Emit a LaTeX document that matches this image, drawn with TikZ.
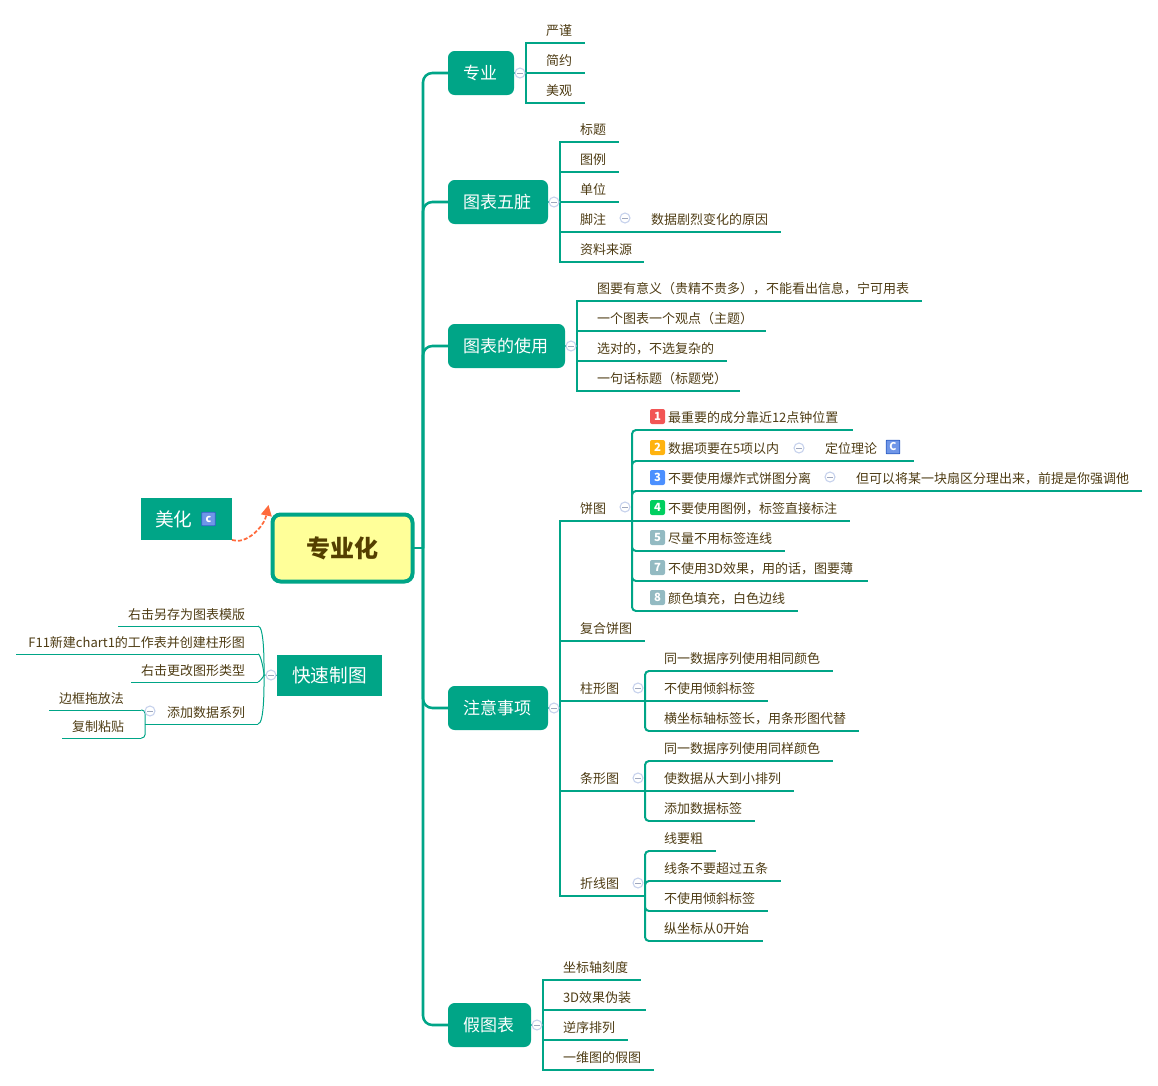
\documentclass[tikz,border=0pt]{standalone}
\usepackage{fontspec}
\setmainfont{Noto Sans CJK SC}
\usetikzlibrary{arrows.meta}

\definecolor{mapgreen}{HTML}{00A587}
\definecolor{maptext}{HTML}{4E3C14}
\definecolor{rootfill}{HTML}{FFFF99}
\definecolor{rootink}{HTML}{543F00}
\definecolor{foldblue}{HTML}{C6D1EC}
\definecolor{fakeorange}{HTML}{FF6A3C}
\definecolor{iconblue}{HTML}{2F5FC4}
\definecolor{iconfill}{HTML}{6F96E8}
\definecolor{badgered}{HTML}{F25555}
\definecolor{badgeorange}{HTML}{FFB310}
\definecolor{badgeblue}{HTML}{4C90FF}
\definecolor{badgegreen}{HTML}{00CF5F}
\definecolor{badgegrey}{HTML}{93BAC2}

\tikzset{
  pad/.store in=\leafpad, pad=15pt,
  branch/.style={draw=mapgreen,line width=1.5pt,line cap=rect},
  thinbranch/.style={draw=mapgreen,line width=.75pt},
  trunk/.style={draw=mapgreen,line width=1.9pt,rounded corners=7pt},
  leaf/.style={anchor=south west,inner sep=0pt,outer sep=0pt,minimum height=18.75pt,
    /utils/exec={\pgfmathsetlengthmacro\leafw{#1*0.75pt}},text width=\leafw,align=left,
    font=\fontsize{9.75pt}{12pt}\selectfont,text=maptext,
    execute at begin node={\hspace*{\leafpad}},
    append after command={(\tikzlastnode.south west) edge[branch] (\tikzlastnode.south east)}},
  rleaf/.style={anchor=south east,inner sep=0pt,outer sep=0pt,minimum height=17.25pt,pad=9.75pt,
    /utils/exec={\pgfmathsetlengthmacro\leafw{#1*0.75pt}},text width=\leafw,align=right,
    font=\fontsize{9.75pt}{12pt}\selectfont,text=maptext,
    execute at end node={\kern\leafpad},
    append after command={(\tikzlastnode.south west) edge[thinbranch] (\tikzlastnode.south east)}},
  topic/.style={anchor=west,fill=mapgreen,text=white,rounded corners=5pt,inner xsep=11.25pt,
    inner ysep=0pt,outer sep=0pt,minimum height=33pt,font=\fontsize{12.75pt}{15pt}\selectfont,
    execute at end node={\kern1.5pt}},
  floatbox/.style={anchor=west,fill=mapgreen,text=white,inner xsep=10.5pt,inner ysep=0pt,
    outer sep=0pt,font=\fontsize{14pt}{17pt}\selectfont},
  badge/.style={rectangle,rounded corners=1.5pt,text=white,inner sep=0pt,minimum size=11.25pt,
    font=\fontsize{8.5pt}{8.5pt}\selectfont\bfseries},
  cicon/.style={rectangle,draw=iconblue,fill=iconfill,text=white,rounded corners=.5pt,inner sep=0pt,
    line width=.6pt,minimum size=10.25pt,font=\fontsize{8pt}{8pt}\selectfont\bfseries},
  fold/.style={circle,draw=foldblue,fill=white,line width=.8pt,inner sep=0pt,minimum size=7.5pt,
    path picture={\draw[foldblue!80!black,line width=.6pt]
      ([xshift=1.8pt]path picture bounding box.west) -- ([xshift=-1.8pt]path picture bounding box.east);}},
}

\begin{document}
\begin{tikzpicture}[x=.75pt,y=-.75pt]
  \useasboundingbox (0,0) rectangle (1158,1086);

  % Root and its hub
  \node[draw=mapgreen,fill=rootfill,text=rootink,line width=3pt,rounded corners=6pt,inner sep=0pt,outer sep=0pt,
    minimum width=105pt,minimum height=50.25pt,font=\fontsize{18pt}{20pt}\selectfont\bfseries] (root) at (342.5,548) {\raisebox{-.75pt}{专业化}};
  \coordinate (hub) at (423,548);

  % Topics
  \node[topic] (zhuanye) at (448,73) {专业};
  \node[topic] (wuzang) at (448,202) {图表五脏};
  \node[topic] (shiyong) at (448,346) {图表的使用};
  \node[topic] (zhuyi) at (448,708) {注意事项};
  \node[topic] (jiatubiao) at (448,1025) {假图表};

  % Main trunk
  \draw[branch,line width=1.9pt,line cap=butt] (root.east) -- (hub);
  \draw[trunk] (hub) |- (zhuanye.west);
  \draw[trunk] (hub) |- (wuzang.west);
  \draw[trunk] (hub) |- (shiyong.west);
  \draw[trunk] (hub) |- (zhuyi.west);
  \draw[trunk] (hub) |- (jiatubiao.west);

  % Zhuanye group
  \node[leaf=58] (yanjin) at (526,43) {严谨};
  \node[leaf=58] (jianyue) at (526,73) {简约};
  \node[leaf=58] (meiguan) at (526,103) {美观};
  \draw[branch] (yanjin.south west) -- (meiguan.south west);
  \draw[branch] (zhuanye.east) -- (jianyue.south west);

  % Wuzang group
  \node[leaf=58] (biaoti) at (560,142) {标题};
  \node[leaf=58] (tuli) at (560,172) {图例};
  \node[leaf=58] (danwei) at (560,202) {单位};
  \node[leaf=61] (jiaozhu) at (560,232) {脚注};
  \node[leaf=149] (yuanyin) at (631,232) {数据剧烈变化的原因};
  \node[leaf=83] (laiyuan) at (560,262) {资料来源};
  \draw[branch] (biaoti.south west) -- (laiyuan.south west);
  \draw[branch] (wuzang.east) -- (danwei.south west);
  \draw[branch] (jiaozhu.south east) -- (yuanyin.south west);

  % Shiyong group
  \node[leaf=344] (yiyi) at (577,301) {图要有意义（贵精不贵多），不能看出信息，宁可用表};
  \node[leaf=188] (guandian) at (577,331) {一个图表一个观点（主题）};
  \node[leaf=149] (xuandui) at (577,361) {选对的，不选复杂的};
  \node[leaf=162] (yiju) at (577,391) {一句话标题（标题党）};
  \draw[branch] (yiyi.south west) -- (yiju.south west);
  \draw[branch] (shiyong.east) -- (shiyong.east -| yiyi.south west);

  % Zhuyi group
  \node[leaf=72] (bingtu) at (560,521) {饼图};
  \node[leaf=84] (fuhe) at (560,641) {复合饼图};
  \node[leaf=85] (zhuxing) at (560,701) {柱形图};
  \node[leaf=85] (tiaoxing) at (560,791) {条形图};
  \node[leaf=85] (zhexian) at (560,896) {折线图};
  \draw[branch] (bingtu.south west) -- (zhexian.south west);
  \draw[branch] (zhuyi.east) -- (zhuyi.east -| bingtu.south west);

  % Pie items
  \node[leaf=216,pad=24pt] (pie1) at (636,430) {最重要的成分靠近12点钟位置};
  \node[leaf=159,pad=24pt] (pie2) at (636,461) {数据项要在5项以内};
  \node[leaf=108] (dingwei) at (805,461) {定位理论};
  \node[leaf=190,pad=24pt] (pie3) at (636,491) {不要使用爆炸式饼图分离};
  \node[leaf=305] (shanqu) at (836,491) {但可以将某一块扇区分理出来，前提是你强调他};
  \node[leaf=213,pad=24pt] (pie4) at (636,521) {不要使用图例，标签直接标注};
  \node[leaf=148,pad=24pt] (pie5) at (636,551) {尽量不用标签连线};
  \node[leaf=231,pad=24pt] (pie7) at (636,581) {不使用3D效果，用的话，图要薄};
  \node[leaf=161,pad=24pt] (pie8) at (636,611) {颜色填充，白色边线};
  \draw[branch,line cap=butt,rounded corners=3pt] (bingtu.south east) |- (pie1.south west)
    (bingtu.south east) |- (pie2.south west)
    (bingtu.south east) |- (pie3.south west)
    (bingtu.south east) |- (pie5.south west)
    (bingtu.south east) |- (pie7.south west)
    (bingtu.south east) |- (pie8.south west);
  \draw[branch] (bingtu.south east) -- (pie4.south west);
  \draw[branch] (pie2.south east) -- (dingwei.south west);
  \draw[branch] (pie3.south east) -- (shanqu.south west);

  % Pie badges
  \node[badge,fill=badgered] (num1) at (657.5,416.5) {1};
  \node[badge,fill=badgeorange] (num2) at (657.5,447.5) {2};
  \node[badge,fill=badgeblue] (num3) at (657.5,477.5) {3};
  \node[badge,fill=badgegreen] (num4) at (657.5,507.5) {4};
  \node[badge,fill=badgegrey] (num5) at (657.5,537.5) {5};
  \node[badge,fill=badgegrey] (num7) at (657.5,567.5) {7};
  \node[badge,fill=badgegrey] (num8) at (657.5,597.5) {8};

  % Column items
  \node[leaf=183,pad=11.25pt] (zhu1) at (649,671) {同一数据序列使用相同颜色};
  \node[leaf=118,pad=11.25pt] (zhu2) at (649,701) {不使用倾斜标签};
  \node[leaf=209,pad=11.25pt] (zhu3) at (649,731) {横坐标轴标签长，用条形图代替};
  \draw[branch,line cap=butt,rounded corners=3pt] (zhuxing.south east) |- (zhu1.south west)
    (zhuxing.south east) |- (zhu3.south west);
  \draw[branch] (zhuxing.south east) -- (zhu2.south west);

  % Bar items
  \node[leaf=183,pad=11.25pt] (tiao1) at (649,761) {同一数据序列使用同样颜色};
  \node[leaf=144,pad=11.25pt] (tiao2) at (649,791) {使数据从大到小排列};
  \node[leaf=105,pad=11.25pt] (tiao3) at (649,821) {添加数据标签};
  \draw[branch,line cap=butt,rounded corners=3pt] (tiaoxing.south east) |- (tiao1.south west)
    (tiaoxing.south east) |- (tiao3.south west);
  \draw[branch] (tiaoxing.south east) -- (tiao2.south west);

  % Line items
  \node[leaf=66,pad=11.25pt] (zhe1) at (649,851) {线要粗};
  \node[leaf=131,pad=11.25pt] (zhe2) at (649,881) {线条不要超过五条};
  \node[leaf=118,pad=11.25pt] (zhe3) at (649,911) {不使用倾斜标签};
  \node[leaf=113,pad=11.25pt] (zhe4) at (649,941) {纵坐标从0开始};
  \draw[branch,line cap=butt,rounded corners=3pt] (zhexian.south east) |- (zhe1.south west)
    (zhexian.south east) |- (zhe2.south west)
    (zhexian.south east) |- (zhe3.south west)
    (zhexian.south east) |- (zhe4.south west);

  % Jiatubiao group
  \node[leaf=97] (kedu) at (543,980) {坐标轴刻度};
  \node[leaf=102] (weizhuang) at (543,1010) {3D效果伪装};
  \node[leaf=84] (nixu) at (543,1040) {逆序排列};
  \node[leaf=110] (yiwei) at (543,1070) {一维图的假图};
  \draw[branch] (kedu.south west) -- (yiwei.south west);
  \draw[branch] (jiatubiao.east) -- (jiatubiao.east -| kedu.south west);

  % Floating boxes on the left
  \node[floatbox,minimum height=31.5pt,inner xsep=10.5pt] (meihua) at (141,519) {美化\kern19.25pt};
  \node[floatbox,minimum height=30.75pt,inner xsep=11.25pt] (kuaisu) at (277,675.5) {快速制图};

  % Beautify arrow
  \coordinate (meihua-tip) at (268.5,505);
  \draw[fakeorange,line width=1.3pt,dash pattern=on 3pt off 1.5pt,-{Triangle[length=8pt,width=8pt]}]
    (meihua.south east) .. controls (246,545) and (264,527) .. (meihua-tip);

  % Quick chart group
  \coordinate (kuaisu-hub) at (264,675);
  \node[rleaf=140] (moban) at (258,626) {右击另存为图表模版};
  \node[rleaf=242] (chart) at (258,654) {F11新建chart1的工作表并创建柱形图};
  \node[rleaf=127] (leixing) at (258,682) {右击更改图形类型};
  \node[rleaf=113] (tianjia) at (258,724) {添加数据系列};
  \node[rleaf=92,pad=12.75pt] (biankuang) at (141,710) {边框拖放法};
  \node[rleaf=79,pad=12.75pt] (fuzhi) at (141,738) {复制粘贴};
  \draw[thinbranch] (kuaisu.west) -- (kuaisu-hub);
  \draw[thinbranch] (kuaisu-hub) to[out=90,in=0,looseness=.35] (moban.south east);
  \draw[thinbranch] (kuaisu-hub) to[out=90,in=0,looseness=.35] (chart.south east);
  \draw[thinbranch] (kuaisu-hub) to[out=-90,in=0,looseness=.35] (leixing.south east);
  \draw[thinbranch] (kuaisu-hub) to[out=-90,in=0,looseness=.35] (tianjia.south east);
  \draw[thinbranch,rounded corners=2.5pt] (biankuang.south east) -| (tianjia.south west);
  \draw[thinbranch,rounded corners=2.5pt] (fuzhi.south east) -| (tianjia.south west);

  % Reference icons
  \node[cicon] (cmeihua) at (208.5,519) {c};
  \node[cicon] (cdingwei) at (893,447) {C};

  % Fold marks
  \node[fold] (fold1) at (520,73) {};
  \node[fold] (fold2) at (554,202) {};
  \node[fold] (fold3) at (625,218) {};
  \node[fold] (fold4) at (571,346) {};
  \node[fold] (fold5) at (554,708) {};
  \node[fold] (fold6) at (625,507) {};
  \node[fold] (fold7) at (799,448) {};
  \node[fold] (fold8) at (830,477) {};
  \node[fold] (fold9) at (638,688) {};
  \node[fold] (fold10) at (638,778) {};
  \node[fold] (fold11) at (638,883) {};
  \node[fold] (fold12) at (537,1025) {};
  \node[fold] (fold13) at (271,675) {};
  \node[fold] (fold14) at (150,711) {};
\end{tikzpicture}
\end{document}
